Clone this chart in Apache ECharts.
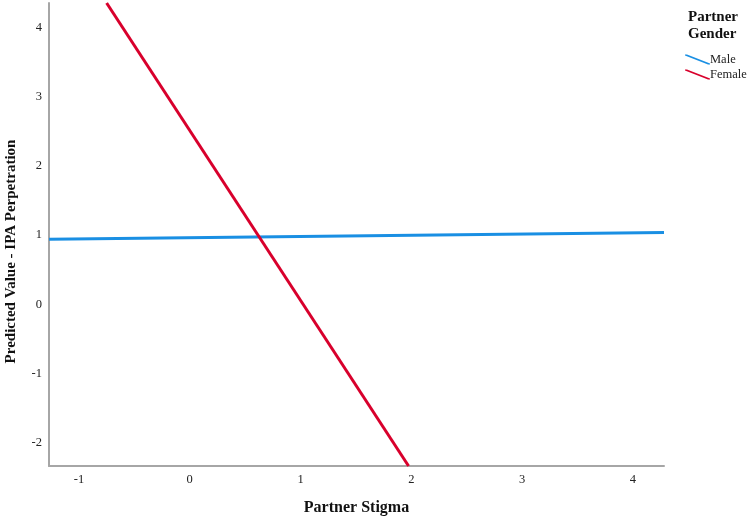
<!DOCTYPE html>
<html>
<head>
<meta charset="utf-8">
<script src="https://cdn.jsdelivr.net/npm/echarts@6/dist/echarts.min.js"></script>
<style>
  html, body { margin: 0; padding: 0; background: #fff; }
  #main { width: 750px; height: 519px; }
</style>
</head>
<body>
<div id="main"></div>
<script>
// x range shown and where the tick labels go
const xRange = [-1.27, 4.28]
const yRange = [-2.33, 4.35]
const xTicks = [-1, 0, 1, 2, 3, 4]
const yTicks = [-2, -1, 0, 1, 2, 3, 4]

// predicted lines (end points)
const maleX = [-1.27, 4.28]
const maleY = [0.94, 1.04]
const femaleX = [-0.75, 1.975]
const femaleY = [4.35, -2.33]

const serif = '"Liberation Serif", "DejaVu Serif", serif'

let chart = echarts.init(document.getElementById('main'))

let option = {
    animation: false,
    backgroundColor: '#fff',
    grid: { left: 49, right: 86, top: 3, bottom: 53, outerBoundsMode: 'none' },
    graphic: [
        {
            type: 'text', left: 688, top: 9,
            style: { text: 'Partner\nGender', font: 'bold 15px ' + serif, fill: '#111', align: 'center', lineHeight: 17 }
        }
    ],
    legend: {
        orient: 'vertical',
        left: 680,
        top: 48,
        itemWidth: 25,
        itemHeight: 10,
        itemGap: 2,
        textStyle: { fontFamily: serif, fontSize: 12.5, color: '#222', padding: [0, 0, 0, -5] },
        data: [
            { name: 'Male', icon: 'path://M0,0L2,0L25,9L25,10L23,10L0,1Z' },
            { name: 'Female', icon: 'path://M0,0L2,0L25,9L25,10L23,10L0,1Z' }
        ]
    },
    xAxis: {
        type: 'value',
        min: xRange[0],
        max: xRange[1],
        name: 'Partner Stigma',
        nameLocation: 'middle',
        nameGap: 34,
        nameTextStyle: { fontFamily: serif, fontSize: 16, fontWeight: 'bold', color: '#111' },
        axisLine: { onZero: false, lineStyle: { color: '#a6a6a6', width: 2 } },
        axisTick: { show: false },
        splitLine: { show: false },
        axisLabel: { customValues: xTicks, fontFamily: serif, fontSize: 12.5, color: '#222', margin: 7 }
    },
    yAxis: {
        type: 'value',
        min: yRange[0],
        max: yRange[1],
        name: 'Predicted Value - IPA Perpetration',
        nameLocation: 'middle',
        nameGap: 30,
        nameTextStyle: { fontFamily: serif, fontSize: 15, fontWeight: 'bold', color: '#111', padding: [0, 34, 0, 0] },
        axisLine: { show: true, onZero: false, lineStyle: { color: '#a6a6a6', width: 2 } },
        axisTick: { show: false },
        splitLine: { show: false },
        axisLabel: { customValues: yTicks, fontFamily: serif, fontSize: 12.5, color: '#222', margin: 7 }
    },
    series: [
        {
            name: 'Male',
            type: 'line',
            symbol: 'none',
            color: '#1a8fe3',
            lineStyle: { width: 3 },
            data: maleX.map((x, i) => [x, maleY[i]])
        },
        {
            name: 'Female',
            type: 'line',
            symbol: 'none',
            color: '#d8002c',
            lineStyle: { width: 3 },
            data: femaleX.map((x, i) => [x, femaleY[i]])
        }
    ]
}
chart.setOption(option)
</script>
</body>
</html>
